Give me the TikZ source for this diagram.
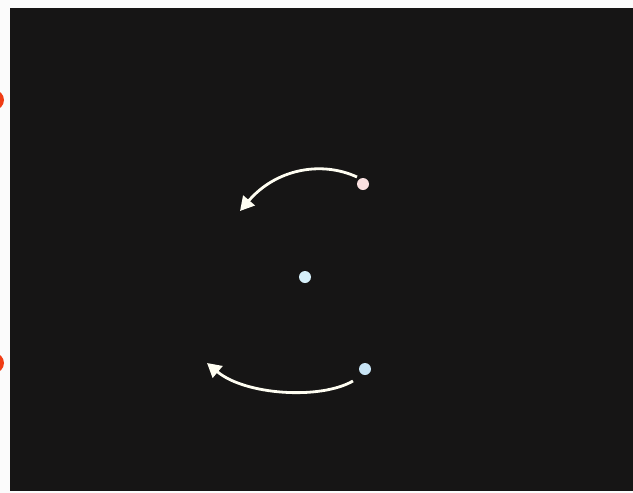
\documentclass[tikz,border=0pt]{standalone}
\usetikzlibrary{arrows.meta}
\definecolor{bg}{RGB}{22,21,21}
\definecolor{dotA}{RGB}{250,225,225}
\definecolor{dotB}{RGB}{215,240,250}
\definecolor{dotC}{RGB}{200,228,245}
\definecolor{sidered}{RGB}{240,60,20}
\definecolor{sideorange}{RGB}{255,170,20}
\tikzset{
  dotnode/.style={circle,inner sep=0pt,minimum size=12pt},
  motion/.style={draw=white!95!yellow,line width=2.8pt,-{Triangle[length=14pt,width=15pt]}},
}
\begin{document}
\begin{tikzpicture}[x=1pt,y=-1pt]
\useasboundingbox (0,0) rectangle (633,493);
\fill[white!97!gray] (0,0) rectangle (633,493);
\fill[bg] (10,8) rectangle (633,491);
% side markers
\begin{scope}
\clip (0,0) rectangle (10,493);
\fill[sidered] (-6,100) circle (10);
\fill[sideorange] (-6,100) circle (5);
\fill[sidered] (-6,363) circle (10);
\fill[sideorange] (-6,363) circle (5);
\end{scope}
% dots
\node[dotnode,fill=dotA] (p1) at (363,184) {};
\node[dotnode,fill=dotB] (p0) at (305,277) {};
\node[dotnode,fill=dotC] (p2) at (365,369) {};
\coordinate (s1) at (357,177);
\coordinate (e1) at (240,211);
\coordinate (s2) at (353,381);
\coordinate (e2) at (207,363);
\draw[motion] (s1) .. controls (320,160) and (275,170) .. (e1);
\draw[motion] (s2) .. controls (320,400) and (245,395) .. (e2);
\end{tikzpicture}
\end{document}
